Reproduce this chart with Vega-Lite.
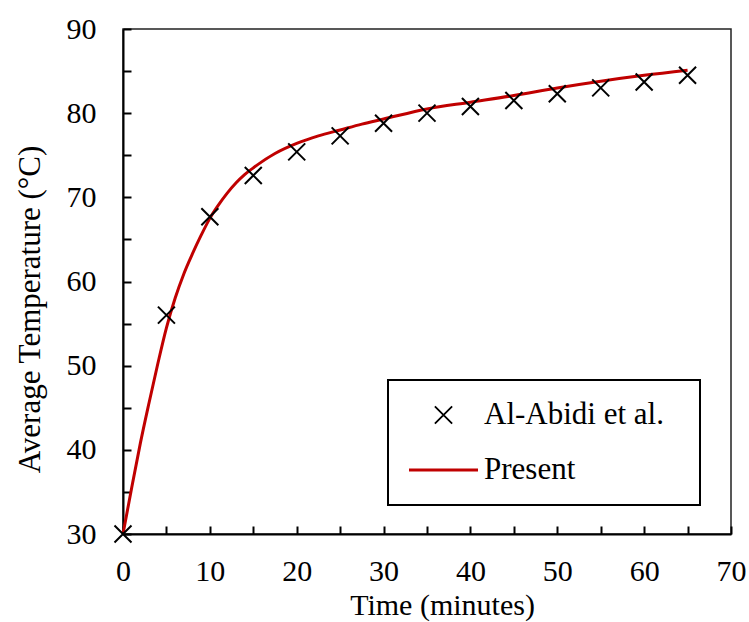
{
  "$schema": "https://vega.github.io/schema/vega-lite/v6.json",
  "width": 608,
  "height": 505,
  "autosize": "none",
  "padding": {"left": 123, "top": 29, "right": 18, "bottom": 88},
  "background": "white",
  "datasets": {
    "measured": [
      {"time": 0, "temp": 30.0}, {"time": 5, "temp": 56.0}, {"time": 10, "temp": 67.7},
      {"time": 15, "temp": 72.6}, {"time": 20, "temp": 75.4}, {"time": 25, "temp": 77.3},
      {"time": 30, "temp": 78.8}, {"time": 35, "temp": 80.0}, {"time": 40, "temp": 80.8},
      {"time": 45, "temp": 81.5}, {"time": 50, "temp": 82.3}, {"time": 55, "temp": 83.0},
      {"time": 60, "temp": 83.7}, {"time": 65, "temp": 84.5}
    ],
    "present": [
      {"time": 0, "temp": 30.0}, {"time": 1, "temp": 35.5}, {"time": 2, "temp": 40.8},
      {"time": 3, "temp": 45.6}, {"time": 4, "temp": 50.2}, {"time": 5, "temp": 54.5},
      {"time": 6, "temp": 58.0}, {"time": 7, "temp": 60.9}, {"time": 8, "temp": 63.3},
      {"time": 9, "temp": 65.5}, {"time": 10, "temp": 67.5}, {"time": 11, "temp": 69.1},
      {"time": 12, "temp": 70.5}, {"time": 13, "temp": 71.7}, {"time": 14, "temp": 72.7},
      {"time": 15, "temp": 73.5}, {"time": 17.5, "temp": 75.2}, {"time": 20, "temp": 76.4},
      {"time": 22.5, "temp": 77.3}, {"time": 25, "temp": 78.0}, {"time": 27.5, "temp": 78.7},
      {"time": 30, "temp": 79.3}, {"time": 35, "temp": 80.5}, {"time": 40, "temp": 81.3},
      {"time": 45, "temp": 82.1}, {"time": 50, "temp": 83.0}, {"time": 55, "temp": 83.8},
      {"time": 60, "temp": 84.5}, {"time": 65, "temp": 85.1}
    ]
  },
  "encoding": {
    "x": {
      "field": "time", "type": "quantitative",
      "scale": {"domain": [0, 70], "nice": false, "zero": false},
      "axis": {
        "title": "Time (minutes)",
        "values": [0, 5, 10, 15, 20, 25, 30, 35, 40, 45, 50, 55, 60, 65, 70],
        "labelExpr": "datum.value % 10 === 0 ? datum.label : ''",
        "titleX": 319, "titleY": 80, "titleBaseline": "alphabetic", "titleAlign": "center",
        "titleFontSize": 30,
        "ticks": true, "tickSize": -8, "tickWidth": 2, "tickColor": "black",
        "labelPadding": 30
      }
    },
    "y": {
      "field": "temp", "type": "quantitative",
      "scale": {"domain": [30, 90], "nice": false, "zero": false},
      "axis": {
        "title": "Average Temperature (°C)",
        "values": [30, 35, 40, 45, 50, 55, 60, 65, 70, 75, 80, 85, 90],
        "labelExpr": "datum.value % 10 === 0 ? datum.label : ''",
        "titleX": -84, "titleY": 280, "titleBaseline": "alphabetic", "titleAlign": "center", "titleAngle": -90,
        "titleFontSize": 31,
        "ticks": true, "tickSize": -8, "tickWidth": 2, "tickColor": "black",
        "labelPadding": 35
      }
    }
  },
  "layer": [
    {
      "data": {"name": "present"},
      "mark": {"type": "line", "strokeWidth": 3, "interpolate": "monotone"},
      "encoding": {
        "color": {
          "datum": "Present",
          "scale": {"domain": ["Al-Abidi et al.", "Present"], "range": ["black", "#C00000"]},
          "legend": {
            "title": null,
            "orient": "none",
            "legendX": 265,
            "legendY": 351,
            "padding": 20,
            "strokeColor": "black",
            "fillColor": "white",
            "symbolSize": 4761,
            "labelOffset": 5,
            "clipHeight": 30,
            "rowPadding": 24,
            "labelFontSize": 31,
            "labelFont": "Liberation Serif",
            "labelColor": "black",
            "labelLimit": 400,
            "labelExpr": "datum.label + '\u00a0\u00a0\u200b'",
            "encode": {
              "legend": {"update": {"strokeWidth": {"value": 2}}},
              "symbols": {
                "update": {
                  "shape": {"signal": "(datum.value === 'Present' ? 'stroke' : 'M-0.25,-0.25L0.25,0.25M-0.25,0.25L0.25,-0.25')"},
                  "stroke": {"signal": "(datum.value === 'Present' ? '#C00000' : 'black')"},
                  "fill": {"value": "transparent"},
                  "strokeWidth": {"signal": "(datum.value === 'Present' ? 3 : 1.8)"},
                  "opacity": {"value": 1}
                }
              }
            }
          }
        }
      }
    },
    {
      "data": {"name": "measured"},
      "mark": {
        "type": "point",
        "shape": "M-1,-1L1,1M-1,1L1,-1",
        "filled": false,
        "size": 289,
        "strokeWidth": 2,
        "opacity": 1
      },
      "encoding": {
        "color": {"datum": "Al-Abidi et al."}
      }
    }
  ],
  "config": {
    "font": "Liberation Serif",
    "view": {"stroke": "#222", "strokeWidth": 1.5},
    "axis": {
      "grid": false,
      "domainColor": "black",
      "domainWidth": 2,
      "tickColor": "black",
      "tickWidth": 2,
      "tickSize": -8,
      "labelFont": "Liberation Serif",
      "labelFontSize": 30,
      "labelColor": "black",
      "titleFont": "Liberation Serif",
      "titleFontSize": 30,
      "titleFontWeight": "normal",
      "titleColor": "black",
      "labelFlush": false,
      "labelOverlap": false
    }
  }
}
